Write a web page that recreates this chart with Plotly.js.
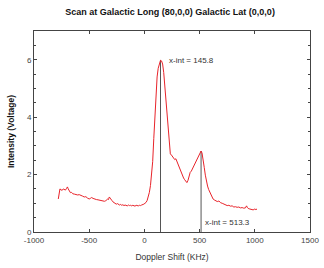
<!DOCTYPE html>
<html><head><meta charset="utf-8">
<script src="https://cdn.plot.ly/plotly-3.0.1.min.js"></script>
<style>html,body{margin:0;padding:0;background:#fff}#c{width:324px;height:268px}</style>
</head><body><div id="c"></div>
<script>
var shiftKHz = [-780,-772,-765,-755,-745,-735,-725,-715,-705,-697,-690,-680,-670,-660,-648,-635,-620,-605,-590,-575,-560,-545,-530,-515,-500,-490,-478,-465,-450,-435,-420,-405,-390,-375,-362,-350,-340,-332,-325,-318,-310,-302,-295,-285,-275,-265,-255,-245,-235,-225,-215,-205,-195,-185,-175,-165,-155,-145,-135,-125,-115,-105,-95,-85,-75,-65,-55,-45,-35,-25,-15,-5,5,15,25,35,45,55,65,75,85,95,105,115,125,135,145.8,155,165,175,185,195,205,215,225,235,245,255,265,275,285,295,305,315,325,335,345,355,365,375,385,395,405,415,425,435,445,455,465,475,485,495,505,513.3,522,532,542,552,562,572,582,592,602,612,622,632,645,660,675,690,705,720,735,750,765,780,795,810,825,840,855,870,885,900,915,925,932,940,955,970,985,1000,1010,1020];
var intensity = [1.15,1.42,1.50,1.47,1.45,1.50,1.47,1.46,1.52,1.57,1.50,1.42,1.37,1.38,1.33,1.32,1.30,1.29,1.30,1.26,1.25,1.22,1.23,1.18,1.15,1.17,1.20,1.17,1.14,1.13,1.12,1.10,1.09,1.08,1.07,1.09,1.12,1.15,1.13,1.22,1.18,1.12,1.10,1.05,1.02,0.99,0.97,0.99,0.95,0.94,0.96,0.93,0.95,0.92,0.94,0.93,0.91,0.94,0.92,0.93,0.91,0.93,0.92,0.90,0.93,0.92,0.91,0.93,0.92,0.94,0.95,0.97,1.00,1.03,1.10,1.22,1.38,1.62,1.95,2.45,3.25,4.00,4.80,5.40,5.70,5.90,5.98,5.96,5.85,5.55,5.05,4.60,4.05,3.50,3.00,2.72,2.68,2.62,2.60,2.52,2.55,2.45,2.33,2.22,2.12,2.02,1.94,1.88,1.82,1.76,1.72,1.80,1.95,2.08,2.12,2.20,2.25,2.32,2.40,2.48,2.56,2.66,2.74,2.82,2.75,2.55,2.25,1.98,1.75,1.60,1.48,1.38,1.28,1.20,1.15,1.12,1.10,1.06,1.08,1.02,1.00,0.97,0.96,0.92,0.93,0.90,0.91,0.87,0.88,0.86,0.87,0.84,0.85,0.83,0.84,0.91,0.86,0.82,0.80,0.79,0.77,0.80,0.78,0.80];
var peakX = [145.8, 513.3];
var peakY = [5.98, 2.82];
var xTicks = [-1000, -500, 0, 500, 1000, 1500];
var xTickText = ['-1000', '-500', '0', '500', '1000', '1500'];

var traces = [];
peakX.forEach(function(px, i){
  traces.push({x:[px,px], y:[0,peakY[i]], mode:'lines', line:{color:'#555555', width:1}, hoverinfo:'skip', showlegend:false});
});
traces.push({x:shiftKHz, y:intensity, mode:'lines', line:{color:'#e8232a', width:1}, showlegend:false});

var ann = [
  {x:peakX[0], y:peakY[0], text:'x-int = ' + peakX[0].toFixed(1), xanchor:'left', yanchor:'middle', xshift:6, showarrow:false, font:{family:'Liberation Sans, Arial', size:8, color:'#333'}},
  {x:peakX[1], y:0.32, text:'x-int = ' + peakX[1].toFixed(1), xanchor:'left', yanchor:'middle', xshift:2, showarrow:false, font:{family:'Liberation Sans, Arial', size:8, color:'#333'}}
];

var layout = {
  width:324, height:268,
  margin:{l:34, r:14, t:31, b:36},
  paper_bgcolor:'#fff', plot_bgcolor:'#fff',
  font:{family:'Liberation Sans, Arial', size:8, color:'#444'},
  title:{text:'<b>Scan at Galactic Long (80,0,0) Galactic Lat (0,0,0)</b>', font:{size:9, color:'#111'}, x:0.525, xanchor:'center', y:0.955, yanchor:'middle'},
  xaxis:{range:[-1000,1500], tickvals:xTicks, ticktext:xTickText, ticks:'inside', ticklen:3, tickcolor:'#444', showline:true, linecolor:'#444', linewidth:1, mirror:'ticks', showgrid:false, zeroline:false,
    title:{text:'Doppler Shift (KHz)', font:{size:8.5, color:'#333'}, standoff:10}, tickfont:{size:8, color:'#444'}},
  yaxis:{range:[0,7], dtick:2, ticks:'inside', ticklen:3, tickcolor:'#444', showline:true, linecolor:'#444', linewidth:1, mirror:'ticks', showgrid:false, zeroline:false,
    minor:{dtick:0.5, ticks:'inside', ticklen:2, tickcolor:'#444'},
    title:{text:'<b>Intensity (Voltage)</b>', font:{size:8.5, color:'#111'}, standoff:10}, tickfont:{size:8, color:'#444'}},
  annotations:ann
};
Plotly.newPlot('c', traces, layout, {displayModeBar:false, staticPlot:true});
</script></body></html>
